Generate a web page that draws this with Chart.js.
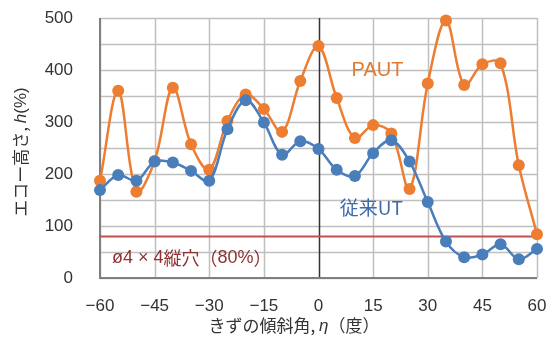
<!DOCTYPE html>
<html>
<head>
<meta charset="utf-8">
<script src="https://cdn.jsdelivr.net/npm/chart.js@4"></script>
<style>
  html, body { margin: 0; padding: 0; background: #fff; }
  #wrap { width: 546px; height: 340px; }
</style>
</head>
<body>
<div id="wrap"><canvas id="c" width="546" height="340"></canvas></div>
<script>
// Flaw tilt angle (deg)
const angles = [-60, -55, -50, -45, -40, -35, -30, -25, -20, -15, -10, -5, 0,
                5, 10, 15, 20, 25, 30, 35, 40, 45, 50, 55, 60];
// Echo height (%) – phased array UT
const pautEcho = [187, 360, 166, 225, 366, 257, 208, 302, 353, 325, 281, 379, 446,
                  346, 269, 294, 278, 171, 374, 495, 371, 411, 413, 217, 84];
// Echo height (%) – conventional UT
const convEcho = [169, 198, 187, 224, 222, 206, 187, 286, 342, 299, 237, 263, 248,
                  208, 196, 240, 265, 224, 146, 70, 40, 45, 65, 36, 56];
// Reference hole level
const refLevel = 80;
const refRange = [-60, 60];
const xTicks = [-60, -45, -30, -15, 0, 15, 30, 45, 60];
const yTicks = [0, 100, 200, 300, 400, 500];
const yGridStep = 50;

const FONT = "'Liberation Sans', 'Noto Sans CJK JP', Arial, sans-serif";
const JP = "'Noto Sans CJK JP', 'Liberation Sans', sans-serif";
const GRID = '#BFBFBF';

const pts = (xs, ys) => xs.map((x, i) => ({ x, y: ys[i] }));

// draws a run of text segments, some italic
function drawRuns(ctx, runs, x, y, size, color, align) {
  ctx.save();
  ctx.fillStyle = color;
  ctx.textBaseline = 'middle';
  ctx.textAlign = 'left';
  const fonts = runs.map(r => (r.it ? 'italic ' : '') + size + 'px ' + (r.jp ? JP : FONT));
  let total = 0;
  const widths = runs.map((r, i) => { ctx.font = fonts[i]; const w = ctx.measureText(r.t).width; total += w; return w; });
  let cx = align === 'center' ? x - total / 2 : x;
  runs.forEach((r, i) => { ctx.font = fonts[i]; ctx.fillText(r.t, cx, y); cx += widths[i]; });
  ctx.restore();
}

const annotations = {
  id: 'annotations',
  beforeDatasetsDraw(chart) {
    // grid lines and plot frame, drawn through the scales
    const { ctx, chartArea: a, scales: { x, y } } = chart;
    ctx.save();
    ctx.lineWidth = 1.5;
    ctx.strokeStyle = GRID;
    ctx.beginPath();
    for (let v = y.min; v <= y.max; v += yGridStep) {
      const py = Math.round(y.getPixelForValue(v)) + 0.5;
      ctx.moveTo(a.left, py);
      ctx.lineTo(a.right, py);
    }
    xTicks.forEach(v => {
      if (v === 0) return;
      const px = Math.round(x.getPixelForValue(v)) + 0.5;
      ctx.moveTo(px, a.top);
      ctx.lineTo(px, a.bottom);
    });
    ctx.stroke();
    // zero-angle line
    ctx.strokeStyle = '#333';
    ctx.lineWidth = 1.5;
    ctx.beginPath();
    const p0 = Math.round(x.getPixelForValue(0)) + 0.5;
    ctx.moveTo(p0, a.top);
    ctx.lineTo(p0, a.bottom);
    ctx.stroke();
    // axis lines
    ctx.strokeStyle = '#7F7F7F';
    ctx.lineWidth = 2;
    ctx.beginPath();
    ctx.moveTo(a.left, a.top);
    ctx.lineTo(a.left, a.bottom);
    ctx.lineTo(a.right, a.bottom);
    ctx.stroke();
    ctx.restore();
  },
  afterDatasetsDraw(chart) {
    const { ctx, scales: { x, y } } = chart;
    ctx.save();
    ctx.textBaseline = 'middle';
    ctx.textAlign = 'center';
    ctx.font = '20px ' + FONT;
    ctx.fillStyle = '#E07A30';
    ctx.fillText('PAUT', x.getPixelForValue(16.2), y.getPixelForValue(400));
    ctx.font = '19px ' + JP;
    ctx.fillStyle = '#3E6AA8';
    ctx.fillText('従来UT', x.getPixelForValue(14.5), y.getPixelForValue(135));
    ctx.restore();
    drawRuns(ctx, [{ t: 'ø4 × 4', jp: false }, { t: '縦穴（', jp: true }, { t: '80%', jp: false }, { t: '）', jp: true }],
      x.getPixelForValue(-34.8), y.getPixelForValue(38), 18, '#8E3232', 'center');
  },
  afterDraw(chart) {
    const { ctx } = chart;
    // x axis title
    drawRuns(ctx, [{ t: 'きずの傾斜角, ', jp: true }, { t: 'η', it: true }, { t: '（度）', jp: true }],
      294, 326, 17, '#333', 'center');
    // y axis title (rotated)
    ctx.save();
    ctx.translate(21, 152);
    ctx.rotate(-Math.PI / 2);
    drawRuns(ctx, [{ t: 'エコー高さ, ', jp: true }, { t: 'h', it: true }, { t: '(%)', jp: false }],
      0, 0, 17, '#333', 'center');
    ctx.restore();
  }
};

new Chart(document.getElementById('c'), {
  type: 'line',
  data: {
    datasets: [
      {
        label: '従来UT',
        data: pts(angles, convEcho),
        borderColor: '#4A7EBB', backgroundColor: '#4A7EBB',
        borderWidth: 2.5, pointRadius: 6, pointBorderWidth: 0,
        tension: 0.35, clip: false
      },
      {
        label: 'PAUT',
        data: pts(angles, pautEcho),
        borderColor: '#ED7D31', backgroundColor: '#ED7D31',
        borderWidth: 2.5, pointRadius: 6, pointBorderWidth: 0,
        tension: 0.35, clip: false
      },
      {
        label: 'ø4×4縦穴(80%)',
        data: refRange.map(x => ({ x, y: refLevel })),
        borderColor: '#C0504D', borderWidth: 2, pointRadius: 0, tension: 0
      }
    ]
  },
  options: {
    responsive: false,
    animation: false,
    events: [],
    layout: { padding: { top: 18, right: 9, left: 0, bottom: 0 } },
    plugins: { legend: { display: false }, tooltip: { enabled: false } },
    scales: {
      x: {
        type: 'linear', min: -60, max: 60,
        afterBuildTicks(scale) { scale.ticks = xTicks.map(v => ({ value: v })); },
        afterFit(scale) { scale.height = 62; scale.paddingLeft = 0; scale.paddingRight = 0; },
        ticks: { color: '#333', padding: 10, font: { size: 17, family: FONT }, maxRotation: 0,
                 callback: v => (v < 0 ? '−' + Math.abs(v) : String(v)) },
        grid: { display: false },
        border: { display: false }
      },
      y: {
        min: 0, max: 500,
        afterBuildTicks(scale) { scale.ticks = yTicks.map(v => ({ value: v })); },
        afterFit(scale) { scale.width = 100; scale.paddingTop = 0; scale.paddingBottom = 0; },
        ticks: { color: '#333', padding: 19, font: { size: 17, family: FONT } },
        grid: { display: false },
        border: { display: false }
      }
    }
  },
  plugins: [annotations]
});
</script>
</body>
</html>
